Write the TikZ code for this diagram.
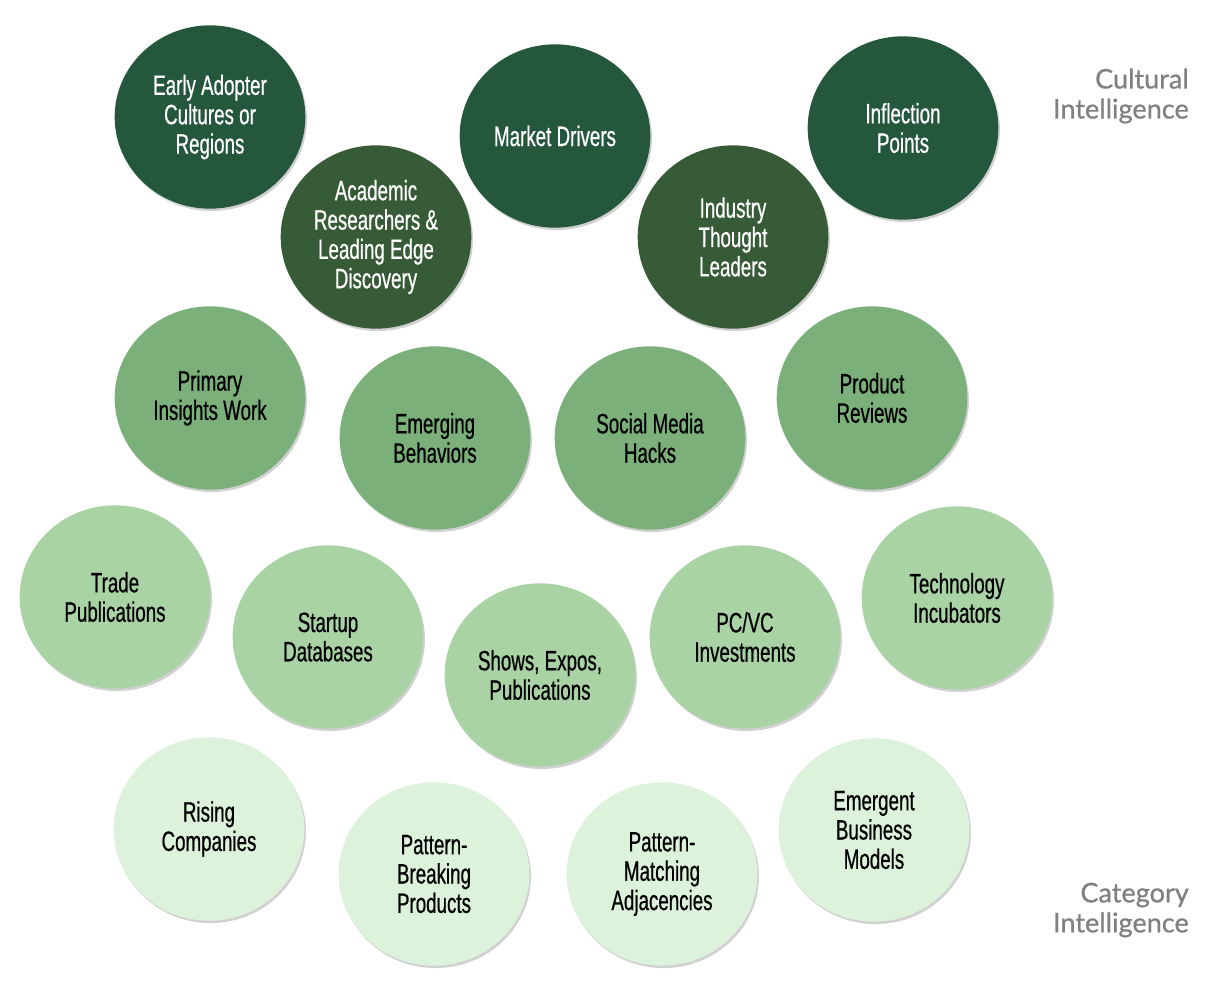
\documentclass[tikz,border=0pt]{standalone}
\usepackage{fontspec}
\newfontfamily\condfont[FakeStretch=0.67,FakeBold=0.6]{Liberation Sans}
\newfontfamily\labfont[FakeBold=0.7]{Lato}
\usetikzlibrary{shapes.geometric,shadows}
\definecolor{cDark}{HTML}{24573B}
\definecolor{cDarkB}{HTML}{375B37}
\definecolor{cMid}{HTML}{7CB07A}
\definecolor{cLight}{HTML}{A9D3A5}
\definecolor{cPale}{HTML}{DDF2DA}
\definecolor{cLab}{HTML}{808080}
\begin{document}
\begin{tikzpicture}[x=0.75pt,y=-0.75pt,
  bub/.style={ellipse, inner sep=0pt, minimum width=143pt, minimum height=137.5pt,
    align=center, font=\condfont\fontsize{21}{22}\selectfont,
    drop shadow={shadow xshift=1.2pt, shadow yshift=-1.8pt, opacity=0.18, fill=black}},
  dark/.style={bub, fill=cDark, text=white},
  darkb/.style={bub, fill=cDarkB, text=white},
  mid/.style={bub, fill=cMid, text=black},
  light/.style={bub, fill=cLight, text=black},
  pale/.style={bub, fill=cPale, text=black},
  sidelab/.style={align=right, anchor=east, text=cLab, inner sep=0pt,
    font=\labfont\fontsize{20.3}{22.5}\selectfont}]
\path[use as bounding box, fill=white] (0,0) rectangle (1219,991);

\node[dark]  (early)   at (210,117) {Early Adopter\\Cultures or\\Regions};
\node[dark]  (market)  at (555,136) {Market Drivers};
\node[dark]  (inflect) at (903,128) {Inflection\\Points};
\node[darkb] (acad)    at (376,237) {Academic\\Researchers \&\\Leading Edge\\Discovery};
\node[darkb] (industry) at (733,237) {Industry\\Thought\\Leaders};

\node[mid] (primary)  at (210,398) {Primary\\Insights Work};
\node[mid] (emerging) at (435,438) {Emerging\\Behaviors};
\node[mid] (social)   at (650,438) {Social Media\\Hacks};
\node[mid] (reviews)  at (872,398) {Product\\Reviews};

\node[light] (trade)   at (115,597) {Trade\\Publications};
\node[light] (startup) at (328,637) {Startup\\Databases};
\node[light] (shows)   at (540,675) {Shows, Expos,\\Publications};
\node[light] (pcvc)    at (745,637) {PC/VC\\Investments};
\node[light] (tech)    at (957,598) {Technology\\Incubators};

\node[pale] (rising)   at (209,829) {Rising\\Companies};
\node[pale] (pbreak)   at (434,874) {Pattern-\\Breaking\\Products};
\node[pale] (pmatch)   at (662,874) {Pattern-\\Matching\\Adjacencies};
\node[pale] (emergent) at (874,830) {Emergent\\Business\\Models};

\node[sidelab] (cult) at (1189,96) {Cultural\\Intelligence};
\node[sidelab] (cat)  at (1189,910) {Category\\Intelligence};
\end{tikzpicture}
\end{document}
